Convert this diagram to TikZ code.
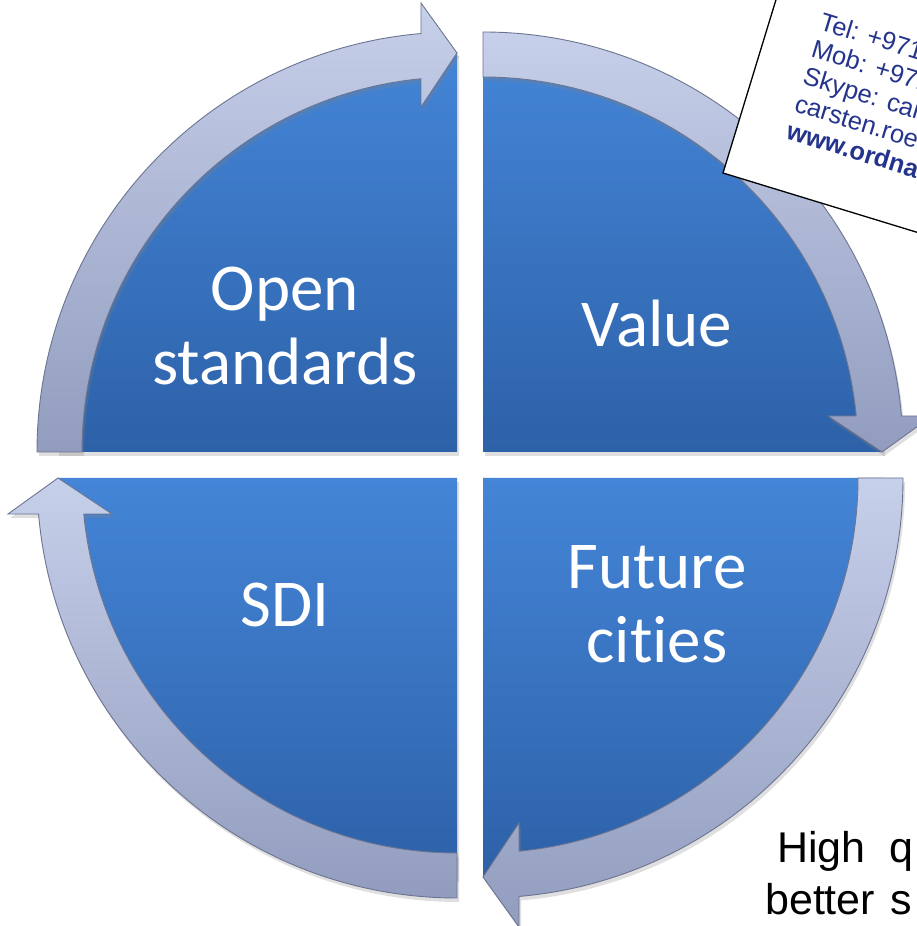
\documentclass[tikz,border=0pt]{standalone}
\usepackage{fontspec}
\setmainfont{Carlito}[Ligatures=NoCommon]
\newfontfamily\arialf{Liberation Sans}
\usetikzlibrary{shadows}
\definecolor{qtop}{RGB}{68,133,215}
\definecolor{qbot}{RGB}{45,97,168}
\definecolor{rtop}{RGB}{198,208,234}
\definecolor{rbot}{RGB}{146,156,190}
\definecolor{redge}{RGB}{108,116,144}
\definecolor{cardblue}{RGB}{36,52,140}
\tikzset{
  quad/.style={top color=qtop, bottom color=qbot, draw=none,
    drop shadow={opacity=0.25, shadow xshift=2pt, shadow yshift=-4pt}},
  ringarrow/.style={top color=rtop, bottom color=rbot, draw=redge, line width=0.9pt, line join=miter,
    drop shadow={opacity=0.25, shadow xshift=2pt, shadow yshift=-4pt}},
  label/.style={text=white, font=\fontsize{67}{74}\selectfont, align=center, inner sep=0pt},
  card/.style={fill=white, draw=black, line width=1.3pt},
  cardtext/.style={text=cardblue, font=\arialf\fontsize{25.5}{28.5}\selectfont, align=left, inner sep=0pt},
  note/.style={text=black, font=\arialf\fontsize{43}{52}\selectfont, inner sep=0pt}
}
\begin{document}
\begin{tikzpicture}[x=1pt,y=1pt]
\useasboundingbox[fill=white] (0,0) rectangle (917,926);
% blue quadrants
\path[quad] (457,474) -- ++(180:400pt) arc[start angle=180,end angle=90,radius=400pt] -- cycle;
\path[quad] (483,474) -- ++(90:400pt) arc[start angle=90,end angle=0,radius=400pt] -- cycle;
\path[quad] (483,448) -- ++(0:400pt) arc[start angle=0,end angle=-90,radius=400pt] -- cycle;
\path[quad] (457,448) -- ++(270:400pt) arc[start angle=270,end angle=180,radius=400pt] -- cycle;
% ring arrows
\begin{scope}[shift={(457,474)}]
\path[ringarrow] (180:420pt) arc[start angle=180,end angle=94.92,radius=420pt] -- (-36pt,449pt) -- (0pt,399pt) -- (-36pt,345pt) -- (95.51:375pt) arc[start angle=95.51,end angle=180,radius=375pt] -- cycle;
\end{scope}
\begin{scope}[shift={(483,474)}]
\path[ringarrow] (90:420pt) arc[start angle=90,end angle=4.92,radius=420pt] -- (449pt,36pt) -- (399pt,0pt) -- (345pt,36pt) -- (5.51:375pt) arc[start angle=5.51,end angle=90,radius=375pt] -- cycle;
\end{scope}
\begin{scope}[shift={(483,448)}]
\path[ringarrow] (0:420pt) arc[start angle=0,end angle=-85.08,radius=420pt] -- (36pt,-449pt) -- (0pt,-399pt) -- (36pt,-345pt) -- (-84.49:375pt) arc[start angle=-84.49,end angle=0,radius=375pt] -- cycle;
\end{scope}
\begin{scope}[shift={(457,448)}]
\path[ringarrow] (270:420pt) arc[start angle=270,end angle=184.92,radius=420pt] -- (-449pt,-36pt) -- (-399pt,0pt) -- (-345pt,-36pt) -- (185.51:375pt) arc[start angle=185.51,end angle=270,radius=375pt] -- cycle;
\end{scope}
% labels
\node[label] (open) at (285,600) {Open\\standards};
\node[label] (value) at (657,603) {Value};
\node[label] (sdi) at (285,321) {SDI};
\node[label] (future) at (657,322) {Future\\cities};
% business card
\begin{scope}[shift={(723,753)}, rotate=-17, transform shape]
\path[card] (0,0) rectangle (420,320);
\node[cardtext, anchor=north west] (cardtxt) at (49,184) {Tel: +971\\Mob: +971\\Skype: car\\carsten.roe\\\textbf{www.ordna}};
\end{scope}
% note text
\node[note, anchor=base west] (high) at (777,63) {High\hspace{24pt}q};
\node[note, anchor=base west] (better) at (765,11) {better\hspace{15pt}s};
\end{tikzpicture}
\end{document}
